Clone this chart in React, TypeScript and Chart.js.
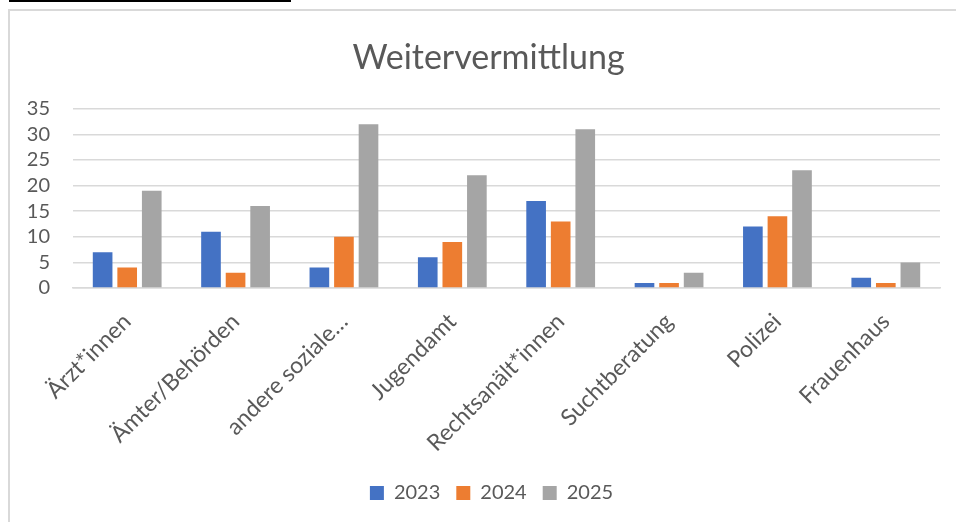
import React, { useEffect, useRef } from "react";
import { Chart, registerables } from "chart.js";

Chart.register(...registerables);

const categories = [
  "Ärzt*innen",
  "Ämter/Behörden",
  "andere soziale…",
  "Jugendamt",
  "Rechtsanält*innen",
  "Suchtberatung",
  "Polizei",
  "Frauenhaus",
];
const values2023 = [7, 11, 4, 6, 17, 1, 12, 2];
const values2024 = [4, 3, 10, 9, 13, 1, 14, 1];
const values2025 = [19, 16, 32, 22, 31, 3, 23, 5];
const seriesLabels = ["2023", "2024", "2025"];
const titleText = "Weitervermittlung";

const TEXT = "#595959";
const FONT = "Lato, 'Noto Sans', sans-serif";

const shiftPlugin = {
  id: "shiftBlocks",
  afterLayout(chart: any) {
    const t = chart.titleBlock;
    if (t) {
      t.left += 5;
      t.right += 5;
    }
    const l = chart.legend;
    if (l) {
      l.left += 8;
      l.right += 8;
    }
  },
};

export default function App() {
  const ref = useRef<HTMLCanvasElement | null>(null);

  useEffect(() => {
    document.body.style.margin = "0";
    const canvas = ref.current;
    if (!canvas) return;
    const chart = new Chart(canvas, {
      type: "bar",
      data: {
        labels: categories,
        datasets: [
          { label: seriesLabels[0], data: values2023, backgroundColor: "#4472C4" },
          { label: seriesLabels[1], data: values2024, backgroundColor: "#ED7D31" },
          { label: seriesLabels[2], data: values2025, backgroundColor: "#A5A5A5" },
        ],
      },
      plugins: [shiftPlugin],
      options: {
        animation: false,
        responsive: false,
        maintainAspectRatio: false,
        layout: { padding: { left: 27, right: 16, top: 0, bottom: 9 } },
        datasets: {
          bar: { categoryPercentage: 0.68, barPercentage: 0.8 },
        },
        plugins: {
          title: {
            display: true,
            text: titleText,
            color: TEXT,
            font: { family: FONT, size: 34, weight: "normal" },
            padding: { top: 38, bottom: 30 },
          },
          legend: {
            position: "bottom",
            labels: {
              color: TEXT,
              font: { family: FONT, size: 20 },
              boxWidth: 14,
              boxHeight: 14,
              padding: 16,
            },
          },
          tooltip: { enabled: false },
        },
        scales: {
          x: {
            grid: { display: false },
            border: { display: true, color: "#d9d9d9", width: 1.5 },
            ticks: {
              color: TEXT,
              font: { family: FONT, size: 23 },
              maxRotation: 45,
              minRotation: 45,
              autoSkip: false,
              padding: 12,
            },
            afterFit: (scale: any) => {
              scale.height = 179;
              scale.paddingLeft = 0;
              scale.paddingRight = 0;
            },
          },
          y: {
            min: 0,
            max: 35,
            ticks: {
              stepSize: 5,
              autoSkip: false,
              color: TEXT,
              font: { family: FONT, size: 20 },
              padding: 23,
            },
            grid: { color: "#d9d9d9", lineWidth: 1.5, drawTicks: false },
            border: { display: false },
            afterFit: (scale: any) => {
              scale.width = 46;
            },
          },
        },
      },
    });
    return () => chart.destroy();
  }, []);

  return (
    <div style={{ position: "relative", width: 956, height: 522, overflow: "hidden", background: "#fff" }}>
      <div style={{ position: "absolute", left: 9, top: 0, width: 282, height: 2, background: "#000" }} />
      <div
        style={{
          position: "absolute",
          left: 8,
          top: 9,
          width: 1100,
          height: 1100,
          border: "2px solid #d9d9d9",
          boxSizing: "border-box",
        }}
      />
      <canvas ref={ref} width={956} height={522} style={{ position: "absolute", left: 0, top: 0 }} />
    </div>
  );
}
